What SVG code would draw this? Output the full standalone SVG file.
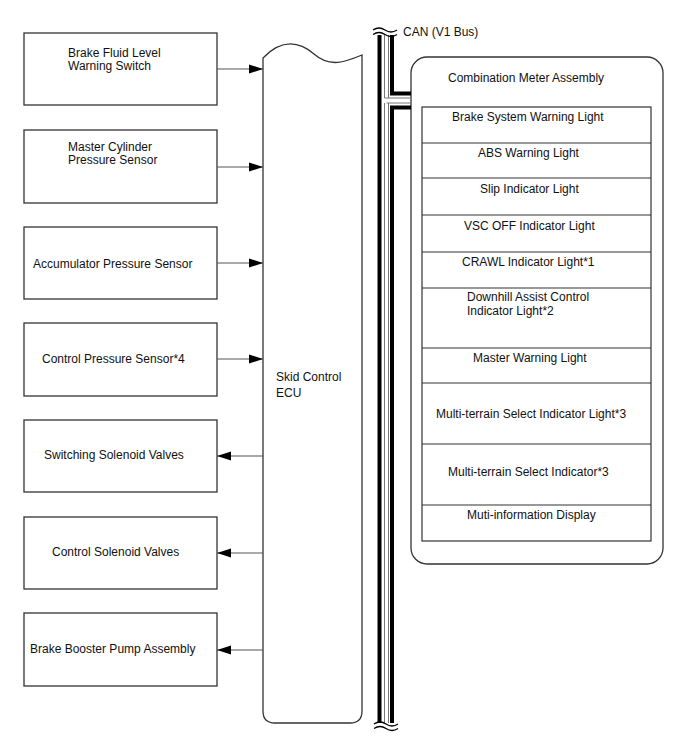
<svg xmlns="http://www.w3.org/2000/svg" width="688" height="755" viewBox="0 0 688 755">
<style>
.box{fill:#fff;stroke:#333;stroke-width:1.3}
.t{font-family:"Liberation Sans",Arial,sans-serif;font-size:12px;fill:#111}
.ln{stroke:#555;stroke-width:1.2;fill:none}
.row{fill:none;stroke:#333;stroke-width:1.2}
.bus{stroke:#000;stroke-width:4;fill:none}
.thin{stroke:#777;stroke-width:1;fill:none}
</style>
<defs>
<marker id="ah" markerUnits="userSpaceOnUse" markerWidth="14" markerHeight="10" refX="14" refY="5" orient="auto">
<path d="M0,0.5 L14,5 L0,9.5 Z" fill="#000"/>
</marker>
</defs>

<g id="n-brake-fluid"><rect class="box" x="24" y="33" width="193" height="72"/><text class="t" x="68" y="57">Brake Fluid Level</text><text class="t" x="68" y="70">Warning Switch</text></g>
<g id="n-master-cyl"><rect class="box" x="24" y="130" width="193" height="73"/><text class="t" x="68" y="151">Master Cylinder</text><text class="t" x="68" y="164">Pressure Sensor</text></g>
<g id="n-accum"><rect class="box" x="24" y="227" width="193" height="72"/><text class="t" x="33" y="268">Accumulator Pressure Sensor</text></g>
<g id="n-ctrl-press"><rect class="box" x="24" y="323" width="193" height="73"/><text class="t" x="42" y="363">Control Pressure Sensor*4</text></g>
<g id="n-switch-sol"><rect class="box" x="24" y="420" width="193" height="72"/><text class="t" x="44" y="459">Switching Solenoid Valves</text></g>
<g id="n-ctrl-sol"><rect class="box" x="24" y="517" width="193" height="72"/><text class="t" x="52" y="556">Control Solenoid Valves</text></g>
<g id="n-booster"><rect class="box" x="24" y="613" width="193" height="73"/><text class="t" x="30" y="653">Brake Booster Pump Assembly</text></g>

<g id="n-ecu">
<path class="box" d="M263,58 C282,38 300,42 314,54 C330,68 345,62 362,55 L362,711 Q362,723 350,723 L275,723 Q263,723 263,711 Z"/>
<text class="t" x="276" y="381">Skid Control</text><text class="t" x="276" y="397">ECU</text>
</g>

<g id="n-meter">
<rect class="box" x="411" y="57" width="252" height="507" rx="16" ry="16"/>
<text class="t" x="448" y="82">Combination Meter Assembly</text>
<rect class="row" x="422" y="107" width="229" height="434"/>
<path class="row" d="M422,143H651M422,178H651M422,215H651M422,252H651M422,288H651M422,348H651M422,383H651M422,444H651M422,505H651"/>
<text class="t" x="452" y="121">Brake System Warning Light</text>
<text class="t" x="478" y="157">ABS Warning Light</text>
<text class="t" x="480" y="193">Slip Indicator Light</text>
<text class="t" x="464" y="230">VSC OFF Indicator Light</text>
<text class="t" x="462" y="266">CRAWL Indicator Light*1</text>
<text class="t" x="467" y="301">Downhill Assist Control</text>
<text class="t" x="467" y="315">Indicator Light*2</text>
<text class="t" x="473" y="362">Master Warning Light</text>
<text class="t" x="436" y="418">Multi-terrain Select Indicator Light*3</text>
<text class="t" x="448" y="476">Multi-terrain Select Indicator*3</text>
<text class="t" x="467" y="519">Muti-information Display</text>
</g>

<g id="n-can">
<path class="bus" d="M379.5,35V723"/>
<path class="bus" d="M392,35V93.5H411"/>
<path class="bus" d="M411,107.5H392V723"/>
<path class="thin" d="M384.5,35V98H411M411,103H386.5M384.5,103V723M388.5,35V98M388.5,103V723"/>
<path fill="none" stroke="#000" stroke-width="1.3" d="M373,30 q6,-4 12,0 t12,0M373,34.5 q6,-4 12,0 t12,0"/>
<path fill="none" stroke="#000" stroke-width="1.3" d="M374,724 q6,-4 12,0 t12,0M374,728.5 q6,-4 12,0 t12,0"/>
<text class="t" x="403" y="36">CAN (V1 Bus)</text>
</g>

<g id="connectors">
<path class="ln" marker-end="url(#ah)" d="M217,69H263"/>
<path class="ln" marker-end="url(#ah)" d="M217,167H263"/>
<path class="ln" marker-end="url(#ah)" d="M217,263H263"/>
<path class="ln" marker-end="url(#ah)" d="M217,359H263"/>
<path class="ln" marker-end="url(#ah)" d="M263,456H217"/>
<path class="ln" marker-end="url(#ah)" d="M263,553H217"/>
<path class="ln" marker-end="url(#ah)" d="M263,650H217"/>
</g>
</svg>
